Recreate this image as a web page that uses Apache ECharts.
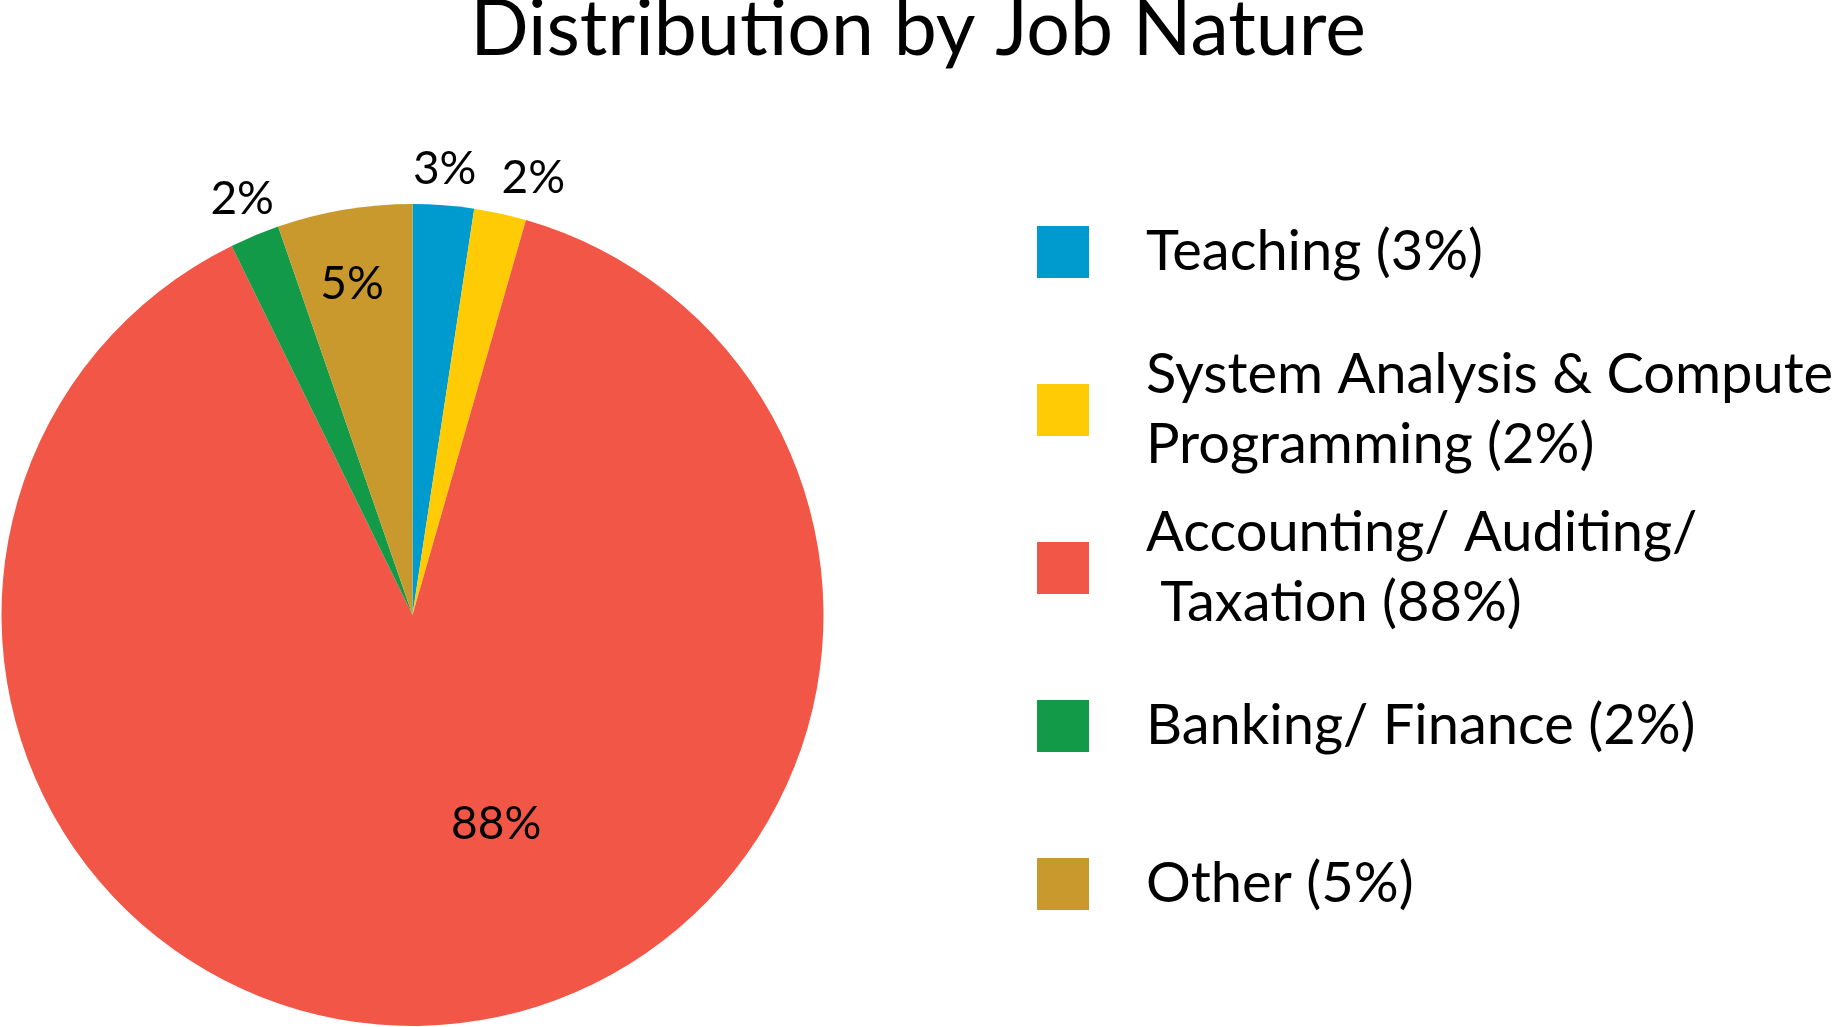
<!DOCTYPE html>
<html>
<head>
<meta charset="utf-8">
<script src="https://cdn.jsdelivr.net/npm/echarts@6/dist/echarts.min.js"></script>
<style>
html,body{margin:0;padding:0;background:#fff;}
#chart{width:1836px;height:1027px;}
</style>
</head>
<body>
<div id="chart"></div>
<script>
// ---- data ----
var categories = ['Teaching', 'System Analysis & Computer Programming', 'Accounting/ Auditing/ Taxation', 'Banking/ Finance', 'Other'];
var values = [2.4, 2.05, 88.3, 1.95, 5.3];
var sliceLabels = ['3%', '2%', '88%', '2%', '5%'];
var legendLabels = ['Teaching (3%)', 'System Analysis & Computer\nProgramming (2%)', 'Accounting/ Auditing/\n Taxation (88%)', 'Banking/ Finance (2%)', 'Other (5%)'];
var colors = ['#009BCE', '#FFCB05', '#F15647', '#139A48', '#C9992D'];

// label offsets (style) relative to default inside position
var labelOffsets = [[16.5, -237.6], [76.3, -233.5], [65.4, 1.6], [-90.2, -223.8], [-25.8, -124.9]];

var FONT = 'Lato';
var chart = echarts.init(document.getElementById('chart'), null, {renderer: 'canvas'});

var legendData = categories.map(function (c, i) {
  var twoLine = legendLabels[i].indexOf('\n') >= 0;
  return {name: c, textStyle: {padding: twoLine ? [4, 0, -4, 52] : [39, 0, 31, 52]}};
});

var option = {
  animation: false,
  title: {
    text: 'Distribution by Job Nature',
    left: 'center',
    top: -8,
    padding: 0,
    textStyle: {fontFamily: FONT, fontSize: 77, fontWeight: 'normal', color: '#000', lineHeight: 77}
  },
  legend: {
    orient: 'vertical',
    left: 1037,
    top: 182,
    padding: 0,
    itemGap: 18,
    itemWidth: 52,
    itemHeight: 52,
    icon: 'rect',
    selectedMode: false,
    data: legendData,
    formatter: function (name) { return legendLabels[categories.indexOf(name)]; },
    textStyle: {fontFamily: FONT, fontSize: 56, color: '#000', lineHeight: 70}
  },
  series: [{
    type: 'pie',
    center: [412.5, 615],
    radius: [0, 411],
    startAngle: 90,
    clockwise: true,
    avoidLabelOverlap: false,
    silent: true,
    label: {
      show: true,
      position: 'inside',
      fontFamily: FONT,
      fontSize: 46,
      color: '#000',
      formatter: function (p) { return sliceLabels[p.dataIndex]; }
    },
    labelLine: {show: false},
    labelLayout: function (p) {
      var o = labelOffsets[p.dataIndex];
      return {dx: o[0], dy: o[1]};
    },
    itemStyle: {borderWidth: 0},
    data: categories.map(function (c, i) {
      return {name: c, value: values[i], itemStyle: {color: colors[i]}};
    })
  }]
};
chart.setOption(option);
</script>
</body>
</html>
